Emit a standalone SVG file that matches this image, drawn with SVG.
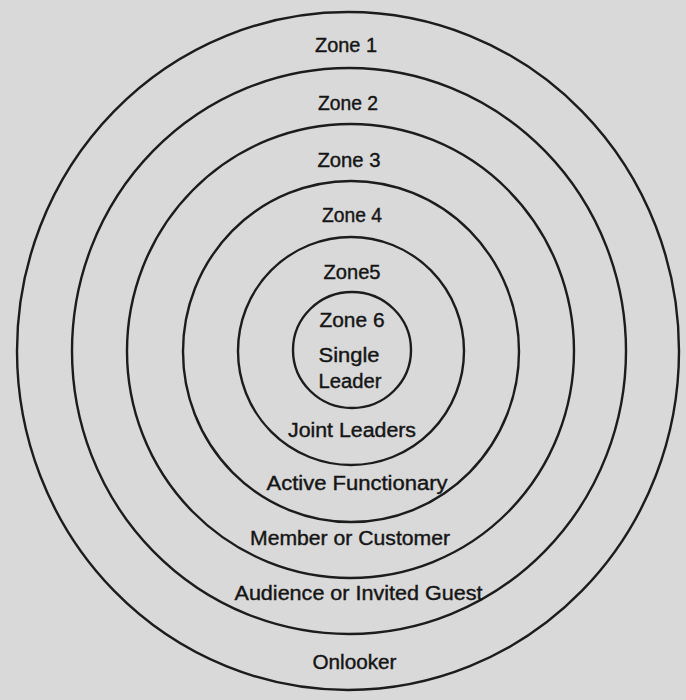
<svg xmlns="http://www.w3.org/2000/svg" width="686" height="700" viewBox="0 0 686 700">
<style>
.ring{fill:none;stroke:#1c1c1c;stroke-width:2.4}
.lbl{font-family:"Liberation Sans",Arial,sans-serif;font-size:20px;fill:#151515;stroke:#151515;stroke-width:0.4;text-anchor:middle}
</style>
<rect width="686" height="700" fill="#d9d9d9"/>
<g id="zone1">
<ellipse class="ring" cx="348" cy="351" rx="331" ry="339"/>
<text class="lbl" x="346" y="52" textLength="62" lengthAdjust="spacingAndGlyphs">Zone 1</text>
<text class="lbl" x="354.5" y="669" textLength="84" lengthAdjust="spacingAndGlyphs">Onlooker</text>
</g>
<g id="zone2">
<ellipse class="ring" cx="349" cy="351" rx="277" ry="283"/>
<text class="lbl" x="348" y="110" textLength="60" lengthAdjust="spacingAndGlyphs">Zone 2</text>
<text class="lbl" x="358.5" y="600" textLength="248" lengthAdjust="spacingAndGlyphs">Audience or Invited Guest</text>
</g>
<g id="zone3">
<ellipse class="ring" cx="350.5" cy="351" rx="223.5" ry="227"/>
<text class="lbl" x="349" y="167" textLength="63" lengthAdjust="spacingAndGlyphs">Zone 3</text>
<text class="lbl" x="350" y="545" textLength="200" lengthAdjust="spacingAndGlyphs">Member or Customer</text>
</g>
<g id="zone4">
<ellipse class="ring" cx="351" cy="351.5" rx="168" ry="170.5"/>
<text class="lbl" x="352" y="222" textLength="60" lengthAdjust="spacingAndGlyphs">Zone 4</text>
<text class="lbl" x="357" y="490" textLength="181" lengthAdjust="spacingAndGlyphs">Active Functionary</text>
</g>
<g id="zone5">
<ellipse class="ring" cx="351" cy="351" rx="113" ry="114"/>
<text class="lbl" x="352" y="279" textLength="57" lengthAdjust="spacingAndGlyphs">Zone5</text>
<text class="lbl" x="352" y="437" textLength="128" lengthAdjust="spacingAndGlyphs">Joint Leaders</text>
</g>
<g id="zone6">
<ellipse class="ring" cx="352" cy="350" rx="59" ry="58"/>
<text class="lbl" x="352" y="327" textLength="65" lengthAdjust="spacingAndGlyphs">Zone 6</text>
<text class="lbl" x="349" y="362" textLength="61" lengthAdjust="spacingAndGlyphs">Single</text>
<text class="lbl" x="350" y="388" textLength="63" lengthAdjust="spacingAndGlyphs">Leader</text>
</g>
</svg>
